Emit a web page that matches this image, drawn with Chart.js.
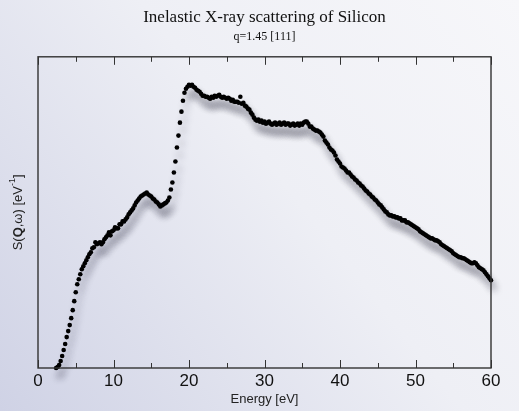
<!DOCTYPE html>
<html>
<head>
<meta charset="utf-8">
<script src="https://cdn.jsdelivr.net/npm/chart.js@4/dist/chart.umd.min.js"></script>
<style>
  html, body { margin: 0; padding: 0; }
  #wrap { width: 519px; height: 411px; }
</style>
</head>
<body>
<div id="wrap"><canvas id="chart" width="519" height="411"></canvas></div>
<script>
// energy loss [eV], one row per eV
const energy = [
  2.4, 2.6, 2.8,
  3.0, 3.2, 3.4, 3.6, 3.8,   4.0, 4.2, 4.4, 4.6, 4.8,   5.0, 5.2, 5.4, 5.6, 5.8,
  6.0, 6.2, 6.4, 6.6, 6.8,   7.0, 7.2, 7.4, 7.6, 7.8,   8.0, 8.2, 8.4, 8.6, 8.8,
  9.0, 9.2, 9.4, 9.6, 9.8,   10.0, 10.2, 10.4, 10.6, 10.8,   11.0, 11.2, 11.4, 11.6, 11.8,
  12.0, 12.2, 12.4, 12.6, 12.8,   13.0, 13.2, 13.4, 13.6, 13.8,   14.0, 14.2, 14.4, 14.6, 14.8,
  15.0, 15.2, 15.4, 15.6, 15.8,   16.0, 16.2, 16.4, 16.6, 16.8,   17.0, 17.2, 17.4, 17.6, 17.8,
  18.0, 18.2, 18.4, 18.6, 18.8,   19.0, 19.2, 19.4, 19.6, 19.8,   20.0, 20.2, 20.4, 20.6, 20.8,
  21.0, 21.2, 21.4, 21.6, 21.8,   22.0, 22.2, 22.4, 22.6, 22.8,   23.0, 23.2, 23.4, 23.6, 23.8,
  24.0, 24.2, 24.4, 24.6, 24.8,   25.0, 25.2, 25.4, 25.6, 25.8,   26.0, 26.2, 26.4, 26.6, 26.8,
  27.0, 27.2, 27.4, 27.6, 27.8,   28.0, 28.2, 28.4, 28.6, 28.8,   29.0, 29.2, 29.4, 29.6, 29.8,
  30.0, 30.2, 30.4, 30.6, 30.8,   31.0, 31.2, 31.4, 31.6, 31.8,   32.0, 32.2, 32.4, 32.6, 32.8,
  33.0, 33.2, 33.4, 33.6, 33.8,   34.0, 34.2, 34.4, 34.6, 34.8,   35.0, 35.2, 35.4, 35.6, 35.8,
  36.0, 36.2, 36.4, 36.6, 36.8,   37.0, 37.2, 37.4, 37.6, 37.8,   38.0, 38.2, 38.4, 38.6, 38.8,
  39.0, 39.2, 39.4, 39.6, 39.8,   40.0, 40.2, 40.4, 40.6, 40.8,   41.0, 41.2, 41.4, 41.6, 41.8,
  42.0, 42.2, 42.4, 42.6, 42.8,   43.0, 43.2, 43.4, 43.6, 43.8,   44.0, 44.2, 44.4, 44.6, 44.8,
  45.0, 45.2, 45.4, 45.6, 45.8,   46.0, 46.2, 46.4, 46.6, 46.8,   47.0, 47.2, 47.4, 47.6, 47.8,
  48.0, 48.2, 48.4, 48.6, 48.8,   49.0, 49.2, 49.4, 49.6, 49.8,   50.0, 50.2, 50.4, 50.6, 50.8,
  51.0, 51.2, 51.4, 51.6, 51.8,   52.0, 52.2, 52.4, 52.6, 52.8,   53.0, 53.2, 53.4, 53.6, 53.8,
  54.0, 54.2, 54.4, 54.6, 54.8,   55.0, 55.2, 55.4, 55.6, 55.8,   56.0, 56.2, 56.4, 56.6, 56.8,
  57.0, 57.2, 57.4, 57.6, 57.8,   58.0, 58.2, 58.4, 58.6, 58.8,   59.0, 59.2, 59.4, 59.6, 59.8,
  60.0
];

// S(Q,w), arbitrary units (no scale printed on the y axis)
const intensity = [
  0.00, 0.01, 0.03,
  0.07, 0.12, 0.18, 0.24, 0.31,   0.37, 0.43, 0.50, 0.58, 0.67,   0.76, 0.84, 0.89, 0.94, 0.99,
  1.02, 1.05, 1.08, 1.11, 1.14,   1.16, 1.20, 1.21, 1.26, 1.24,   1.25, 1.26, 1.24, 1.26, 1.29,
  1.31, 1.33, 1.36, 1.33, 1.37,   1.38, 1.41, 1.40, 1.40, 1.44,   1.44, 1.47, 1.47, 1.49, 1.51,
  1.54, 1.56, 1.58, 1.60, 1.63,   1.66, 1.68, 1.70, 1.72, 1.73,   1.74, 1.75, 1.76, 1.74, 1.73,
  1.72, 1.70, 1.69, 1.67, 1.66,   1.64, 1.62, 1.63, 1.64, 1.65,   1.66, 1.68, 1.71, 1.79, 1.86,
  1.96, 2.07, 2.21, 2.33, 2.46,   2.57, 2.68, 2.76, 2.80, 2.82,   2.84, 2.83, 2.84, 2.82, 2.81,
  2.79, 2.78, 2.77, 2.75, 2.73,   2.73, 2.72, 2.72, 2.71, 2.70,   2.72, 2.71, 2.73, 2.72, 2.73,
  2.74, 2.72, 2.71, 2.72, 2.71,   2.70, 2.71, 2.70, 2.68, 2.69,   2.67, 2.67, 2.67, 2.66, 2.72,
  2.65, 2.66, 2.63, 2.62, 2.60,   2.59, 2.56, 2.54, 2.51, 2.49,   2.48, 2.49, 2.47, 2.48, 2.46,
  2.47, 2.45, 2.46, 2.47, 2.45,   2.44, 2.45, 2.46, 2.44, 2.45,   2.46, 2.44, 2.45, 2.46, 2.44,
  2.45, 2.45, 2.43, 2.44, 2.45,   2.43, 2.44, 2.45, 2.43, 2.45,   2.44, 2.46, 2.47, 2.47, 2.45,
  2.42, 2.42, 2.40, 2.39, 2.38,   2.38, 2.37, 2.36, 2.34, 2.32,   2.28, 2.26, 2.24, 2.21, 2.19,
  2.18, 2.16, 2.13, 2.09, 2.07,   2.05, 2.02, 2.01, 2.00, 1.98,   1.96, 1.96, 1.94, 1.92, 1.91,
  1.89, 1.88, 1.86, 1.85, 1.83,   1.82, 1.80, 1.78, 1.77, 1.75,   1.74, 1.72, 1.71, 1.69, 1.68,
  1.66, 1.64, 1.63, 1.61, 1.59,   1.57, 1.56, 1.54, 1.53, 1.53,   1.52, 1.52, 1.51, 1.51, 1.50,
  1.50, 1.48, 1.48, 1.48, 1.46,   1.46, 1.45, 1.44, 1.43, 1.42,   1.41, 1.40, 1.39, 1.37, 1.36,
  1.35, 1.34, 1.33, 1.32, 1.31,   1.30, 1.30, 1.29, 1.28, 1.28,   1.27, 1.26, 1.24, 1.23, 1.22,
  1.21, 1.20, 1.19, 1.18, 1.17,   1.15, 1.14, 1.13, 1.12, 1.11,   1.11, 1.10, 1.10, 1.09, 1.08,
  1.07, 1.06, 1.05, 1.05, 1.06,   1.05, 1.03, 1.01, 1.00, 0.99,   0.98, 0.96, 0.94, 0.92, 0.90,
  0.88
];

const majorTicks = [0, 10, 20, 30, 40, 50, 60];
const minorTicks = [5, 15, 25, 35, 45, 55];

const titleText = 'Inelastic X-ray scattering of Silicon';
const subtitleText = 'q=1.45 [111]';
const xTitle = 'Energy [eV]';

const points = energy.map((e, i) => ({ x: e, y: intensity[i] }));

const sans = '"Liberation Sans", Arial, sans-serif';
const serif = '"Liberation Serif", "Times New Roman", serif';

// light lavender page background
const backdrop = {
  id: 'backdrop',
  beforeDraw(chart) {
    const { ctx, width, height } = chart;
    const g = ctx.createLinearGradient(width, 0, 0, height);
    g.addColorStop(0, '#f7f7fa');
    g.addColorStop(0.45, '#eeeff5');
    g.addColorStop(1, '#cfd2e5');
    ctx.save();
    ctx.fillStyle = g;
    ctx.fillRect(0, 0, width, height);
    ctx.restore();
  }
};

// soft drop shadow under the markers
const markerShadow = {
  id: 'markerShadow',
  beforeDatasetsDraw(chart) {
    const ctx = chart.ctx;
    ctx.save();
    ctx.shadowColor = 'rgba(40, 40, 60, 0.35)';
    ctx.shadowBlur = 7;
    ctx.shadowOffsetX = 3;
    ctx.shadowOffsetY = 8;
  },
  afterDatasetsDraw(chart) {
    chart.ctx.restore();
  }
};

// frame with inward ticks on top and bottom, plus the y title
const frame = {
  id: 'frame',
  afterDraw(chart) {
    const { ctx, chartArea: a } = chart;
    const xs = chart.scales.x;
    ctx.save();
    ctx.strokeStyle = '#333';
    ctx.lineWidth = 1.4;
    ctx.strokeRect(a.left, a.top, a.right - a.left, a.bottom - a.top);

    ctx.lineWidth = 1;
    const tick = (v, len) => {
      const px = Math.round(xs.getPixelForValue(v)) + 0.5;
      ctx.beginPath();
      ctx.moveTo(px, a.bottom);
      ctx.lineTo(px, a.bottom - len);
      ctx.moveTo(px, a.top);
      ctx.lineTo(px, a.top + len);
      ctx.stroke();
    };
    majorTicks.forEach(v => tick(v, 8));
    minorTicks.forEach(v => tick(v, 5));

    // S(Q,ω) [eV^-1], rotated
    const parts = [
      { t: 'S(', f: '13px ' + sans, dy: 0 },
      { t: 'Q', f: 'bold 13px ' + sans, dy: 0 },
      { t: ',ω) [eV', f: '13px ' + sans, dy: 0 },
      { t: '-1', f: '9px ' + sans, dy: -5 },
      { t: ']', f: '13px ' + sans, dy: 0 }
    ];
    let total = 0;
    parts.forEach(p => { ctx.font = p.f; p.w = ctx.measureText(p.t).width; total += p.w; });
    ctx.translate(18, (a.top + a.bottom) / 2);
    ctx.rotate(-Math.PI / 2);
    ctx.fillStyle = '#222';
    ctx.textBaseline = 'middle';
    let x = -total / 2;
    parts.forEach(p => { ctx.font = p.f; ctx.fillText(p.t, x, p.dy); x += p.w; });
    ctx.restore();
  }
};

new Chart(document.getElementById('chart'), {
  type: 'scatter',
  data: {
    datasets: [{
      data: points,
      pointRadius: 2.3,
      pointHoverRadius: 2.3,
      pointBackgroundColor: '#000',
      pointBorderWidth: 0,
      showLine: false,
      clip: false
    }]
  },
  options: {
    responsive: false,
    animation: false,
    events: [],
    layout: { padding: { left: 38, right: 28, top: 0, bottom: 0 } },
    plugins: {
      legend: { display: false },
      tooltip: { enabled: false },
      title: {
        display: true,
        text: titleText,
        color: '#111',
        font: { family: serif, size: 17, weight: 'normal' },
        padding: { top: 7, bottom: 0 }
      },
      subtitle: {
        display: true,
        text: subtitleText,
        color: '#111',
        font: { family: serif, size: 12 },
        padding: { top: 2, bottom: 13 }
      }
    },
    scales: {
      x: {
        type: 'linear',
        min: 0,
        max: 60,
        grid: { display: false, drawTicks: false },
        border: { display: false },
        ticks: {
          stepSize: 10,
          padding: 3,
          color: '#111',
          font: { family: sans, size: 17 },
          maxRotation: 0
        },
        title: {
          display: true,
          text: xTitle,
          color: '#222',
          font: { family: sans, size: 13 },
          padding: { top: 0, bottom: 4 }
        },
        afterFit(scale) { scale.height = 43; }
      },
      y: {
        type: 'linear',
        display: false,
        min: 0,
        max: 3.12
      }
    }
  },
  plugins: [backdrop, markerShadow, frame]
});
</script>
</body>
</html>
